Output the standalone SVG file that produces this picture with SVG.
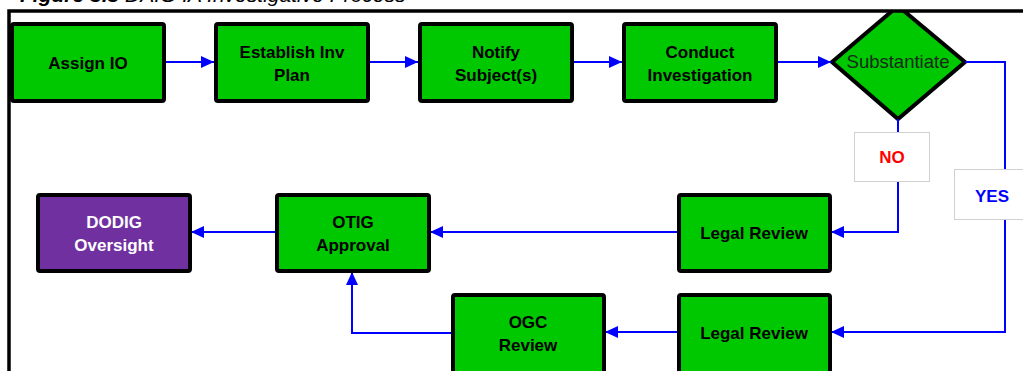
<svg xmlns="http://www.w3.org/2000/svg" width="1023" height="371" viewBox="0 0 1023 371">
<style>
.box{fill:#00C800;stroke:#000;stroke-width:4}
.purple{fill:#7030A0;stroke:#000;stroke-width:4}
.t{font-family:"Liberation Sans",Arial,sans-serif;font-weight:bold;font-size:17px;fill:#000;text-anchor:middle}
.tw{fill:#fff}
.con{fill:none;stroke:#0000FF;stroke-width:2}
.lbl{fill:#fff;stroke:#D0D0D0;stroke-width:1}
</style>
<defs>
<marker id="arr" markerUnits="userSpaceOnUse" markerWidth="14" markerHeight="14" refX="13" refY="7" orient="auto">
<path d="M0,1 L13,7 L0,13 Z" fill="#0000FF"/>
</marker>
<clipPath id="inframe"><rect x="0" y="11" width="1023" height="360"/></clipPath>
</defs>
<rect width="1023" height="371" fill="#fff"/>
<text x="20" y="2" font-family="Liberation Sans,Arial,sans-serif" font-size="21" font-style="italic"><tspan font-weight="bold">Figure 3.3</tspan> DAIG IA Investigative Process</text>

<g id="n-substantiate">
<polygon points="898,6 965,62 898,119 832,62" fill="#00C800" stroke="#000" stroke-width="4" stroke-linejoin="miter" clip-path="url(#inframe)"/>
<text x="898" y="68" font-family="Liberation Sans,Arial,sans-serif" font-size="18.5" fill="#1a2a1a" text-anchor="middle">Substantiate</text>
</g>
<rect x="9" y="11" width="1030" height="380" fill="none" stroke="#000" stroke-width="3.5"/>

<g id="connectors">
<line class="con" x1="165" y1="62" x2="214" y2="62" marker-end="url(#arr)"/>
<line class="con" x1="369" y1="62" x2="418" y2="62" marker-end="url(#arr)"/>
<line class="con" x1="572" y1="62" x2="622" y2="62" marker-end="url(#arr)"/>
<line class="con" x1="776" y1="62" x2="831" y2="62" marker-end="url(#arr)"/>
<polyline class="con" points="965,62 1005,62 1005,332 831,332" marker-end="url(#arr)"/>
<polyline class="con" points="898,119 898,232 831,232" marker-end="url(#arr)"/>
<line class="con" x1="678" y1="232" x2="430" y2="232" marker-end="url(#arr)"/>
<line class="con" x1="276" y1="232" x2="191" y2="232" marker-end="url(#arr)"/>
<line class="con" x1="678" y1="332" x2="605" y2="332" marker-end="url(#arr)"/>
<polyline class="con" points="453,333 352,333 352,272" marker-end="url(#arr)"/>
<g id="label-no">
<rect class="lbl" x="854.5" y="132.5" width="75" height="49"/>
<text x="892" y="163" font-family="Liberation Sans,Arial,sans-serif" font-weight="bold" font-size="17" fill="#FF0000" text-anchor="middle">NO</text>
</g>
<g id="label-yes">
<rect class="lbl" x="954.5" y="169.5" width="75" height="50"/>
<text x="992" y="202" font-family="Liberation Sans,Arial,sans-serif" font-weight="bold" font-size="17" fill="#0000FF" text-anchor="middle">YES</text>
</g>
</g>

<g id="n-assign">
<rect class="box" x="12" y="24" width="152" height="77" rx="2"/>
<text class="t" x="88" y="69">Assign IO</text>
</g>
<g id="n-establish">
<rect class="box" x="216" y="24" width="152" height="77" rx="2"/>
<text class="t" x="292" y="58">Establish Inv</text>
<text class="t" x="292" y="81">Plan</text>
</g>
<g id="n-notify">
<rect class="box" x="420" y="24" width="152" height="77" rx="2"/>
<text class="t" x="496" y="58">Notify</text>
<text class="t" x="496" y="81">Subject(s)</text>
</g>
<g id="n-conduct">
<rect class="box" x="624" y="24" width="152" height="77" rx="2"/>
<text class="t" x="700" y="58">Conduct</text>
<text class="t" x="700" y="81">Investigation</text>
</g>
<g id="n-dodig">
<rect class="purple" x="38" y="195" width="152" height="76" rx="2"/>
<text class="t tw" x="114" y="228">DODIG</text>
<text class="t tw" x="114" y="251">Oversight</text>
</g>
<g id="n-otig">
<rect class="box" x="277" y="195" width="152" height="76" rx="2"/>
<text class="t" x="353" y="228">OTIG</text>
<text class="t" x="353" y="251">Approval</text>
</g>
<g id="n-legal1">
<rect class="box" x="679" y="195" width="151" height="76" rx="2"/>
<text class="t" x="754" y="239">Legal Review</text>
</g>
<g id="n-legal2">
<rect class="box" x="679" y="295" width="151" height="80" rx="2"/>
<text class="t" x="754" y="339">Legal Review</text>
</g>
<g id="n-ogc">
<rect class="box" x="453" y="295" width="151" height="80" rx="2"/>
<text class="t" x="528" y="328">OGC</text>
<text class="t" x="528" y="351">Review</text>
</g>
</svg>
